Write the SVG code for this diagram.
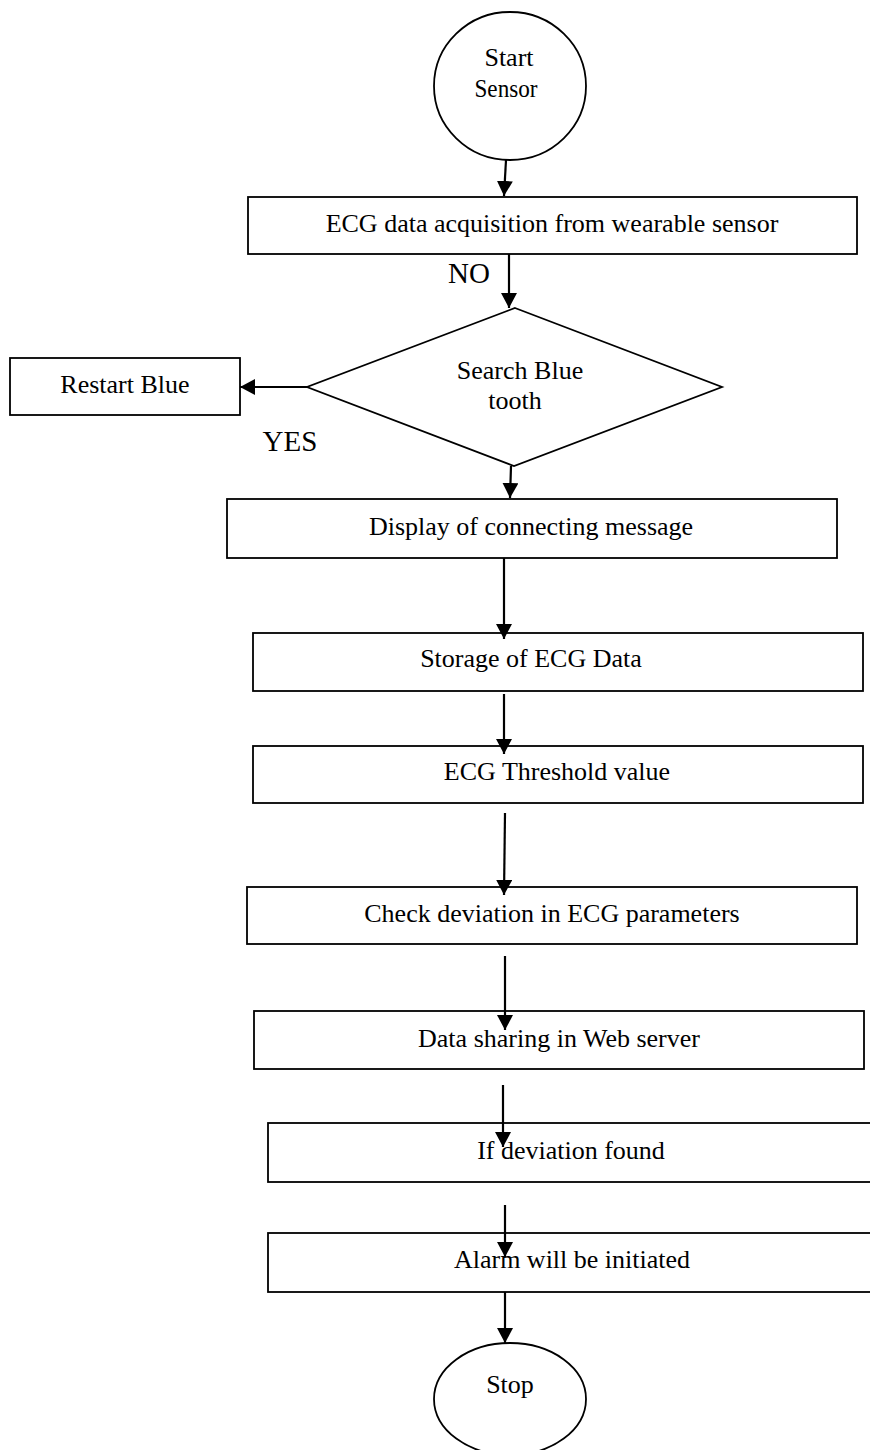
<svg xmlns="http://www.w3.org/2000/svg" width="870" height="1450" viewBox="0 0 870 1450">
<style>
.box{fill:#fff;stroke:#000;stroke-width:1.8}
.t{font-family:"Liberation Serif","Times New Roman",serif;font-size:26px;fill:#000;text-anchor:middle}
.lbl{font-family:"Liberation Serif","Times New Roman",serif;font-size:29px;fill:#000;text-anchor:middle}
.c{fill:none;stroke:#000;stroke-width:2.2}
</style>
<defs>
<marker id="ah" markerUnits="userSpaceOnUse" markerWidth="18" markerHeight="18" refX="15" refY="8" orient="auto">
<path d="M0,0 L15,8 L0,16 z" fill="#000"/>
</marker>
</defs>
<rect width="870" height="1450" fill="#fff"/>
<g id="start">
<ellipse class="box" cx="510" cy="86" rx="76" ry="74"/>
<text class="t" x="509" y="66">Start</text>
<text class="t" x="506" y="97" textLength="63" lengthAdjust="spacingAndGlyphs">Sensor</text>
</g>
<g id="acquire">
<rect class="box" x="248" y="197" width="609" height="57"/>
<text class="t" x="552" y="232">ECG data acquisition from wearable sensor</text>
</g>
<g id="search">
<polygon class="box" points="515,308 722,387 514,466 307,387"/>
<text class="t" x="520" y="379">Search Blue</text>
<text class="t" x="515" y="409">tooth</text>
</g>
<g id="restart">
<rect class="box" x="10" y="358" width="230" height="57"/>
<text class="t" x="125" y="393">Restart Blue</text>
</g>
<g id="display">
<rect class="box" x="227" y="499" width="610" height="59"/>
<text class="t" x="531" y="535">Display of connecting message</text>
</g>
<g id="storage">
<rect class="box" x="253" y="633" width="610" height="58"/>
<text class="t" x="531" y="667">Storage of ECG Data</text>
</g>
<g id="threshold">
<rect class="box" x="253" y="746" width="610" height="57"/>
<text class="t" x="557" y="780">ECG Threshold value</text>
</g>
<g id="check">
<rect class="box" x="247" y="887" width="610" height="57"/>
<text class="t" x="552" y="922">Check deviation in ECG parameters</text>
</g>
<g id="share">
<rect class="box" x="254" y="1011" width="610" height="58"/>
<text class="t" x="559" y="1047">Data sharing in Web server</text>
</g>
<g id="deviation">
<rect class="box" x="268" y="1123" width="620" height="59"/>
<text class="t" x="571" y="1159">If deviation found</text>
</g>
<g id="alarm">
<rect class="box" x="268" y="1233" width="620" height="59"/>
<text class="t" x="572" y="1268">Alarm will be initiated</text>
</g>
<g id="stop">
<ellipse class="box" cx="510" cy="1399" rx="76" ry="56"/>
<text class="t" x="510" y="1393">Stop</text>
</g>
<g id="connectors">
<line class="c" x1="506" y1="160" x2="504" y2="196" marker-end="url(#ah)"/>
<line class="c" x1="509" y1="254" x2="509" y2="308" marker-end="url(#ah)"/>
<line class="c" x1="307" y1="387" x2="240" y2="387" marker-end="url(#ah)"/>
<line class="c" x1="511" y1="466" x2="510" y2="498" marker-end="url(#ah)"/>
<line class="c" x1="504" y1="558" x2="504" y2="639" marker-end="url(#ah)"/>
<line class="c" x1="504" y1="694" x2="504" y2="754" marker-end="url(#ah)"/>
<line class="c" x1="505" y1="813" x2="504" y2="895" marker-end="url(#ah)"/>
<line class="c" x1="505" y1="956" x2="505" y2="1030" marker-end="url(#ah)"/>
<line class="c" x1="503" y1="1085" x2="503" y2="1147" marker-end="url(#ah)"/>
<line class="c" x1="505" y1="1205" x2="505" y2="1257" marker-end="url(#ah)"/>
<line class="c" x1="505" y1="1292" x2="505" y2="1343" marker-end="url(#ah)"/>
<text class="lbl" x="469" y="283">NO</text>
<text class="lbl" x="290" y="451">YES</text>
</g>
</svg>
